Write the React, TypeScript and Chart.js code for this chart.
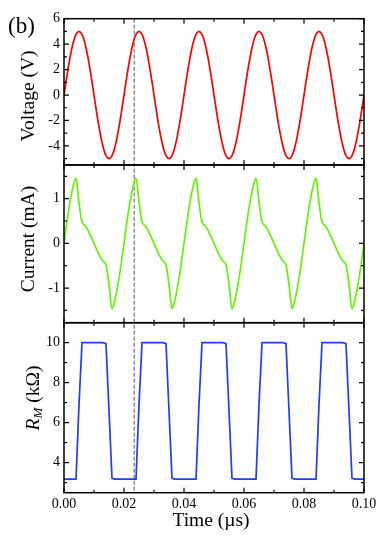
import React, { useEffect, useRef } from 'react';
import { Chart, registerables } from 'chart.js';

Chart.register(...registerables);

// ---------- data ----------
const TIME_US = [
  0, 0.001, 0.002, 0.003, 0.004, 0.005, 0.006, 0.007, 0.008, 0.009,
  0.01, 0.011, 0.012, 0.013, 0.014, 0.015, 0.016, 0.017, 0.018, 0.019,
  0.02, 0.021, 0.022, 0.023, 0.024, 0.025, 0.026, 0.027, 0.028, 0.029,
  0.03, 0.031, 0.032, 0.033, 0.034, 0.035, 0.036, 0.037, 0.038, 0.039,
  0.04, 0.041, 0.042, 0.043, 0.044, 0.045, 0.046, 0.047, 0.048, 0.049,
  0.05, 0.051, 0.052, 0.053, 0.054, 0.055, 0.056, 0.057, 0.058, 0.059,
  0.06, 0.061, 0.062, 0.063, 0.064, 0.065, 0.066, 0.067, 0.068, 0.069,
  0.07, 0.071, 0.072, 0.073, 0.074, 0.075, 0.076, 0.077, 0.078, 0.079,
  0.08, 0.081, 0.082, 0.083, 0.084, 0.085, 0.086, 0.087, 0.088, 0.089,
  0.09, 0.091, 0.092, 0.093, 0.094, 0.095, 0.096, 0.097, 0.098, 0.099,
  0.1,
];

const VOLTAGE_V = [
  0, 1.55, 2.94, 4.05, 4.76, 5, 4.76, 4.05, 2.94, 1.55, 0, -1.55, -2.94, -4.05, -4.76, -5, -4.76, -4.05, -2.94, -1.55,
  0, 1.55, 2.94, 4.05, 4.76, 5, 4.76, 4.05, 2.94, 1.55, 0, -1.55, -2.94, -4.05, -4.76, -5, -4.76, -4.05, -2.94, -1.55,
  0, 1.55, 2.94, 4.05, 4.76, 5, 4.76, 4.05, 2.94, 1.55, 0, -1.55, -2.94, -4.05, -4.76, -5, -4.76, -4.05, -2.94, -1.55,
  0, 1.55, 2.94, 4.05, 4.76, 5, 4.76, 4.05, 2.94, 1.55, 0, -1.55, -2.94, -4.05, -4.76, -5, -4.76, -4.05, -2.94, -1.55,
  0, 1.55, 2.94, 4.05, 4.76, 5, 4.76, 4.05, 2.94, 1.55, 0, -1.55, -2.94, -4.05, -4.76, -5, -4.76, -4.05, -2.94, -1.55,
  0,
];

const CURRENT_MA = [
  0, 0.49, 0.92, 1.26, 1.46, 0.92, 0.48, 0.4, 0.29, 0.15, 0, -0.15, -0.29, -0.4, -0.48, -0.92, -1.46, -1.26, -0.92, -0.49,
  0, 0.49, 0.92, 1.26, 1.46, 0.92, 0.48, 0.4, 0.29, 0.15, 0, -0.15, -0.29, -0.4, -0.48, -0.92, -1.46, -1.26, -0.92, -0.49,
  0, 0.49, 0.92, 1.26, 1.46, 0.92, 0.48, 0.4, 0.29, 0.15, 0, -0.15, -0.29, -0.4, -0.48, -0.92, -1.46, -1.26, -0.92, -0.49,
  0, 0.49, 0.92, 1.26, 1.46, 0.92, 0.48, 0.4, 0.29, 0.15, 0, -0.15, -0.29, -0.4, -0.48, -0.92, -1.46, -1.26, -0.92, -0.49,
  0, 0.49, 0.92, 1.26, 1.46, 0.92, 0.48, 0.4, 0.29, 0.15, 0, -0.15, -0.29, -0.4, -0.48, -0.92, -1.46, -1.26, -0.92, -0.49,
  0,
];

const RM_KOHM = [
  3.18, 3.18, 3.18, 3.18, 3.18, 6.9, 10, 10, 10, 10, 10, 10, 10, 10, 9.95, 6.6, 3.22, 3.18, 3.18, 3.18,
  3.18, 3.18, 3.18, 3.18, 3.18, 6.9, 10, 10, 10, 10, 10, 10, 10, 10, 9.95, 6.6, 3.22, 3.18, 3.18, 3.18,
  3.18, 3.18, 3.18, 3.18, 3.18, 6.9, 10, 10, 10, 10, 10, 10, 10, 10, 9.95, 6.6, 3.22, 3.18, 3.18, 3.18,
  3.18, 3.18, 3.18, 3.18, 3.18, 6.9, 10, 10, 10, 10, 10, 10, 10, 10, 9.95, 6.6, 3.22, 3.18, 3.18, 3.18,
  3.18, 3.18, 3.18, 3.18, 3.18, 6.9, 10, 10, 10, 10, 10, 10, 10, 10, 9.95, 6.6, 3.22, 3.18, 3.18, 3.18,
  3.18,
];

const X_MAJOR = [0, 0.02, 0.04, 0.06, 0.08, 0.1];
const X_LABELS = ['0.00', '0.02', '0.04', '0.06', '0.08', '0.10'];
const X_MINOR = [0.01, 0.03, 0.05, 0.07, 0.09];

const V_MAJOR = [-4, -2, 0, 2, 4, 6];
const V_LABELS = ['-4', '-2', '0', '2', '4', '6'];
const V_MINOR = [-5, -3, -1, 1, 3, 5];

const I_MAJOR = [-1, 0, 1];
const I_LABELS = ['-1', '0', '1'];
const I_MINOR = [-1.5, -0.5, 0.5, 1.5];

const R_MAJOR = [4, 6, 8, 10];
const R_LABELS = ['4', '6', '8', '10'];
const R_MINOR = [3, 5, 7, 9];

const MARKER_T = 0.0234;

// ---------- layout ----------
const W = 382;
const H = 537;
const PLOT_LEFT = 64;
const PLOT_RIGHT = 364;
const SERIF = '"Liberation Serif", "Times New Roman", serif';

type Panel = {
  top: number;
  bottom: number;
  min: number;
  max: number;
  values: number[];
  color: string;
  major: number[];
  labels: string[];
  minor: number[];
  showX: boolean;
  smooth: 'spline' | 'monotone' | 'none';
};

const PANELS: Panel[] = [
  { top: 18.7, bottom: 165, min: -5.5, max: 6, values: VOLTAGE_V, color: '#ff0000', major: V_MAJOR, labels: V_LABELS, minor: V_MINOR, showX: false, smooth: 'spline' },
  { top: 165, bottom: 322.7, min: -1.776, max: 1.754, values: CURRENT_MA, color: '#62f400', major: I_MAJOR, labels: I_LABELS, minor: I_MINOR, showX: false, smooth: 'monotone' },
  { top: 322.7, bottom: 492.7, min: 2.5, max: 11, values: RM_KOHM, color: '#1f3cff', major: R_MAJOR, labels: R_LABELS, minor: R_MINOR, showX: true, smooth: 'none' },
];

function vText(ctx: CanvasRenderingContext2D, text: string, x: number, y: number) {
  ctx.save();
  ctx.translate(x, y);
  ctx.rotate(-Math.PI / 2);
  ctx.textAlign = 'center';
  ctx.textBaseline = 'middle';
  ctx.fillText(text, 0, 0);
  ctx.restore();
}

function framePlugin(panel: Panel, index: number) {
  return {
    id: 'frame' + index,
    beforeDatasetsDraw(chart: any) {
      if (index !== 0) return;
      const ctx: CanvasRenderingContext2D = chart.ctx;
      const px = chart.scales.x.getPixelForValue(MARKER_T);
      ctx.save();
      ctx.strokeStyle = '#555555';
      ctx.lineWidth = 1;
      ctx.setLineDash([4, 2]);
      ctx.beginPath();
      ctx.moveTo(px, PANELS[0].top);
      ctx.lineTo(px, PANELS[2].bottom);
      ctx.stroke();
      ctx.restore();
    },
    afterDraw(chart: any) {
      const ctx: CanvasRenderingContext2D = chart.ctx;
      const a = chart.chartArea;
      const xs = chart.scales.x;
      const ys = chart.scales.y;
      ctx.save();
      ctx.strokeStyle = '#000';
      ctx.lineWidth = 1.2;
      ctx.beginPath();
      const xTick = (v: number, len: number) => {
        const p = xs.getPixelForValue(v);
        ctx.moveTo(p, a.top);
        ctx.lineTo(p, a.top + len);
        ctx.moveTo(p, a.bottom);
        ctx.lineTo(p, a.bottom - len);
      };
      const yTick = (v: number, len: number) => {
        const p = ys.getPixelForValue(v);
        ctx.moveTo(a.left, p);
        ctx.lineTo(a.left + len, p);
        ctx.moveTo(a.right, p);
        ctx.lineTo(a.right - len, p);
      };
      X_MAJOR.forEach((v) => xTick(v, 5));
      X_MINOR.forEach((v) => xTick(v, 3));
      panel.major.forEach((v) => yTick(v, 5));
      panel.minor.forEach((v) => yTick(v, 3));
      ctx.stroke();
      ctx.lineWidth = 1.5;
      ctx.strokeRect(a.left, a.top, a.right - a.left, a.bottom - a.top);

      ctx.fillStyle = '#000';
      if (index === 0) {
        ctx.font = `19.5px ${SERIF}`;
        vText(ctx, 'Voltage (V)', 29, 96);
        ctx.font = `23px ${SERIF}`;
        ctx.textAlign = 'left';
        ctx.textBaseline = 'middle';
        ctx.fillText('(b)', 8, 27);
      } else if (index === 1) {
        ctx.font = `19.5px ${SERIF}`;
        vText(ctx, 'Current (mA)', 29, 239);
      } else {
        ctx.font = `19.5px ${SERIF}`;
        ctx.textAlign = 'center';
        ctx.textBaseline = 'middle';
        ctx.fillText('Time (\u00b5s)', 211, 521);
        // R_M (kΩ) with italic subscript
        const main = `italic 19.5px ${SERIF}`;
        const sub = `italic 13px ${SERIF}`;
        const rest = `19.5px ${SERIF}`;
        ctx.font = main;
        const wR = ctx.measureText('R').width;
        ctx.font = sub;
        const wM = ctx.measureText('M').width;
        ctx.font = rest;
        const wRest = ctx.measureText(' (k\u03a9)').width;
        const total = wR + wM + wRest;
        ctx.save();
        ctx.translate(34, 398);
        ctx.rotate(-Math.PI / 2);
        ctx.textAlign = 'left';
        ctx.textBaseline = 'middle';
        let x = -total / 2;
        ctx.font = main;
        ctx.fillText('R', x, 0);
        x += wR;
        ctx.font = sub;
        ctx.fillText('M', x, 5);
        x += wM;
        ctx.font = rest;
        ctx.fillText(' (k\u03a9)', x, 0);
        ctx.restore();
      }
      ctx.restore();
    },
  };
}

function makeConfig(panel: Panel, index: number): any {
  const points = TIME_US.map((t, i) => ({ x: t, y: panel.values[i] }));
  return {
    type: 'line',
    data: {
      datasets: [
        {
          data: points,
          borderColor: panel.color,
          borderWidth: 1.7,
          pointRadius: 0,
          fill: false,
          tension: panel.smooth === 'none' ? 0 : 0.4,
          cubicInterpolationMode: panel.smooth === 'monotone' ? 'monotone' : 'default',
        },
      ],
    },
    options: {
      animation: false,
      responsive: false,
      devicePixelRatio: 1,
      events: [],
      layout: {
        padding: {
          left: 0,
          right: W - PLOT_RIGHT,
          top: panel.top,
          bottom: panel.showX ? 0 : H - panel.bottom,
        },
      },
      plugins: { legend: { display: false }, tooltip: { enabled: false }, title: { display: false } },
      scales: {
        x: {
          type: 'linear',
          min: 0,
          max: 0.1,
          display: panel.showX,
          grid: { display: false, drawTicks: false },
          border: { display: false },
          afterBuildTicks: (s: any) => {
            s.ticks = X_MAJOR.map((v) => ({ value: v }));
          },
          afterFit: (s: any) => {
            if (panel.showX) s.height = H - panel.bottom;
          },
          ticks: {
            autoSkip: false,
            maxRotation: 0,
            padding: 3.5,
            color: '#000',
            font: { family: SERIF, size: 14 },
            callback: (_v: any, i: number) => X_LABELS[i],
          },
        },
        y: {
          type: 'linear',
          min: panel.min,
          max: panel.max,
          grid: { display: false, drawTicks: false },
          border: { display: false },
          afterBuildTicks: (s: any) => {
            s.ticks = panel.major.map((v) => ({ value: v }));
          },
          afterFit: (s: any) => {
            s.width = PLOT_LEFT;
          },
          ticks: {
            autoSkip: false,
            padding: 4,
            color: '#000',
            font: { family: SERIF, size: 14 },
            callback: (_v: any, i: number) => panel.labels[i],
          },
        },
      },
    },
    plugins: [framePlugin(panel, index)],
  };
}

export default function App() {
  const r0 = useRef<HTMLCanvasElement>(null);
  const r1 = useRef<HTMLCanvasElement>(null);
  const r2 = useRef<HTMLCanvasElement>(null);
  const refs = [r0, r1, r2];

  useEffect(() => {
    const charts = PANELS.map((p, i) => new Chart(refs[i].current as HTMLCanvasElement, makeConfig(p, i)));
    return () => charts.forEach((c) => c.destroy());
  }, []);

  return (
    <div style={{ position: 'fixed', left: 0, top: 0, width: W, height: H, background: '#fff' }}>
      {refs.map((r, i) => (
        <canvas
          key={i}
          ref={r}
          width={W}
          height={H}
          style={{ position: 'absolute', left: 0, top: 0, width: W, height: H }}
        />
      ))}
    </div>
  );
}
